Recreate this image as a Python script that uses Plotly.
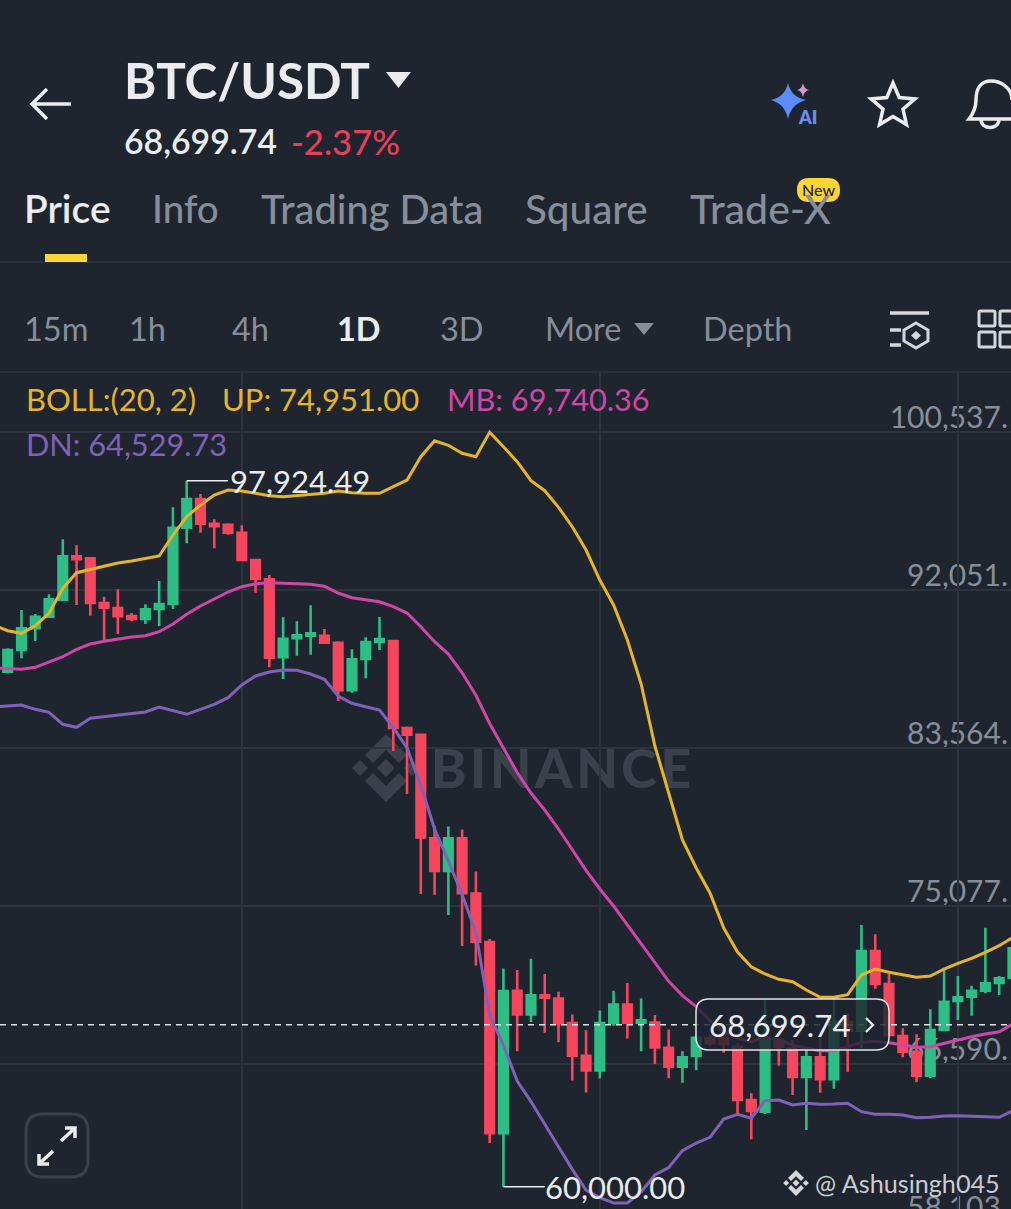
import math
import re
import plotly.graph_objects as go

W, H = 1011, 1209
BG = '#1f252f'
GRID = '#2d333e'
GREEN = '#2EBD85'
RED = '#F6465D'
GREY = '#868e9a'
WHITE = '#EAECEF'
FONT = 'Lato'

# daily candles, one value per candle
opens = [87663, 88828, 89994, 90617, 91530, 93861, 93753, 91353, 91084, 90654, 90493, 91030, 91299, 95397, 96938, 95612, 95558, 95128, 93662, 92620,
         88436, 89457, 89596, 89596, 89220, 86664, 88345, 89258, 89312, 84639, 84274, 78715, 76958, 78715, 75745, 73140, 62870, 70529, 69256, 70288,
         70105, 68794, 67038, 66248, 68794, 69783, 68816, 68816, 67457, 66447, 67022, 67973, 67973, 67521, 64659, 64030, 67881, 67436, 65894, 66952,
         65770, 68864, 68381, 72662, 70889, 68096, 67253, 65964, 68418, 69976, 70207, 70529, 70943, 71227]
highs = [88919, 90977, 90762, 91820, 94774, 94452, 93753, 91691, 92088, 90815, 91283, 92534, 96493, 97924.49, 97207, 95848, 95633, 95526, 93662, 92856,
         90585, 90370, 91229, 89956, 89295, 88866, 89510, 90601, 89365, 84714, 84274, 79381, 79343, 79182, 76937, 73306, 71722, 71641, 72248, 71426,
         70470, 69256, 68408, 69460, 70529, 70937, 70105, 69219, 68451, 67280, 68150, 68150, 68059, 67704, 65019, 70030, 67973, 67881, 67344, 68150,
         70083, 69278, 74058, 73558, 71426, 68510, 68187, 69530, 71765, 71319, 70798, 73913, 71319, 73252]
lows = [87577, 88382, 89312, 90617, 91530, 91245, 90670, 89274, 89688, 90370, 90225, 90117, 91030, 94559, 95128, 94291, 95021, 93625, 91906, 87899,
        87271, 88522, 88576, 89220, 86089, 86535, 87308, 88828, 83404, 81099, 75723, 75685, 74595, 72935, 71883, 62349, 60000, 67280, 68853, 68268,
        67763, 65701, 65056, 65824, 68649, 67967, 67280, 66590, 65824, 65583, 66259, 67575, 67199, 63944, 62548, 63907, 66501, 64927, 63047, 65051,
        65266, 66179, 67436, 70637, 68150, 66952, 65609, 65824, 68381, 68956, 69186, 70390, 70298, 71100]
closes = [88828, 89994, 90617, 91551, 93861, 93700, 91353, 91100, 90638, 90493, 91014, 91299, 95397, 96938, 95612, 95472, 95128, 93662, 92642, 88415,
          89435, 89618, 89725, 89220, 86664, 88329, 89258, 89419, 84639, 84274, 78757, 76958, 78715, 75766, 73156, 62870, 70513, 69256, 70288, 70148,
          68773, 67038, 66248, 68794, 69783, 68816, 68934, 67478, 66447, 66952, 67999, 67720, 67666, 64659, 64068, 67881, 67521, 65894, 66952, 65770,
          68864, 68381, 72662, 70889, 68150, 67253, 65964, 68418, 69938, 70175, 70529, 70927, 71195, 72806]

# bollinger bands start one candle earlier, off the left edge
boll_up = [90170, 89865, 89725, 90133, 90799, 92142, 92980, 93163, 93356, 93501, 93608, 93753, 93877, 95005, 95988, 96616, 97153, 97422, 97368, 97245, 97116,
           97062, 97116, 97169, 97245, 97368, 97277, 97245, 97245, 97599, 97959, 99210, 100070, 99823, 99393, 99210, 100521, 99747, 98942, 97921, 97384,
           96493, 95451, 94199, 92588, 91245, 89365, 87002, 83672, 81148, 78623, 77119, 75777, 73897, 72608, 71818, 71426, 71141, 71013, 70567, 70175,
           70175, 70314, 71372, 71695, 71517, 71372, 71249, 71319, 71695, 72001, 72269, 72592, 72946, 73397]
boll_mid = [87860, 87808, 87792, 87899, 88184, 88468, 88866, 89150, 89295, 89419, 89526, 89596, 89811, 90225, 90746, 91191, 91584, 91943, 92228, 92389, 92443,
            92427, 92411, 92357, 92250, 91890, 91637, 91514, 91422, 91154, 90815, 90080, 89274, 88613, 87604, 86395, 84880, 83564, 82249, 81148, 80235,
            79214, 78108, 76996, 75992, 75077, 74069, 73059, 72006, 71034, 70266, 69670, 68918, 68327, 67973, 67790, 68059, 67881, 67613, 67436, 67307,
            67307, 67521, 67758, 67812, 67737, 67613, 67489, 67521, 67704, 67881, 68059, 68204, 68327, 68741]
boll_dn = [85767, 85820, 85874, 85643, 85482, 84838, 84676, 85160, 85246, 85337, 85428, 85498, 85767, 85568, 85375, 85643, 85912, 86266, 86948, 87432, 87647,
           87754, 87738, 87539, 87254, 86358, 85965, 85783, 85606, 84666, 83564, 81545, 79214, 77501, 75685, 73666, 69224, 67613, 65679, 64573, 63359,
           62145, 60931, 59825, 59417, 59127, 59127, 59717, 60630, 61033, 61941, 62349, 62655, 63638, 63891, 63676, 64621, 64659, 64390, 64481, 64427,
           64444, 64481, 64030, 63891, 63891, 63853, 63708, 63729, 63799, 63815, 63783, 63746, 63729, 64084]

candle_x = list(range(len(opens)))
boll_x = list(range(-1, len(opens)))

grid_prices = [100537, 92051, 83564, 75077, 66590, 58103]
grid_labels = ['100,537.', '92,051.', '83,564.', '75,077.', '66,590.', '58,103.']
grid_candles = [17, 43, 69]
last_price = 68699.74
peak_price = 97924.49
bottom_price = 60000.00
PRICE_PER_PX = 53.71


def px(x, y):
    return x / W, 1 - y / H


def pp(d):
    # svg path written in screen pixels -> paper coords
    out, n = [], 0
    for tok in re.findall(r'[A-Za-z]|-?[\d.]+', d):
        if tok.isalpha():
            out.append(tok)
        else:
            v = float(tok)
            out.append(f'{v / W:.5f}' if n % 2 == 0 else f'{1 - v / H:.5f}')
            n += 1
    return ' '.join(out)


def rrect(x0, y0, x1, y1, r):
    return (f'M {x0 + r} {y0} L {x1 - r} {y0} Q {x1} {y0} {x1} {y0 + r} L {x1} {y1 - r} Q {x1} {y1} {x1 - r} {y1} '
            f'L {x0 + r} {y1} Q {x0} {y1} {x0} {y1 - r} L {x0} {y0 + r} Q {x0} {y0} {x0 + r} {y0} Z')


def binance_logo(cx, cy, s):
    parts = []
    polys = [[(0, -34), (21, -13), (13, -5), (0, -18), (-13, -5), (-21, -13)],
             [(0, 34), (21, 13), (13, 5), (0, 18), (-13, 5), (-21, 13)],
             [(0, -9), (9, 0), (0, 9), (-9, 0)],
             [(-26, -8), (-18, 0), (-26, 8), (-34, 0)],
             [(26, -8), (34, 0), (26, 8), (18, 0)]]
    for poly in polys:
        pts = [f'{cx + a * s} {cy + b * s}' for a, b in poly]
        parts.append('M ' + ' L '.join(pts) + ' Z')
    return ' '.join(parts)


fig = go.Figure()

fig.add_trace(go.Candlestick(
    x=candle_x, open=opens, high=highs, low=lows, close=closes,
    increasing=dict(line=dict(color=GREEN, width=2.6), fillcolor=GREEN),
    decreasing=dict(line=dict(color=RED, width=2.6), fillcolor=RED),
    whiskerwidth=0, showlegend=False, hoverinfo='skip',
))
fig.add_trace(go.Scatter(x=boll_x, y=boll_up, mode='lines', line=dict(color='#E5B429', width=3), showlegend=False, hoverinfo='skip'))
fig.add_trace(go.Scatter(x=boll_x, y=boll_mid, mode='lines', line=dict(color='#CE47A6', width=3), showlegend=False, hoverinfo='skip'))
fig.add_trace(go.Scatter(x=boll_x, y=boll_dn, mode='lines', line=dict(color='#7F62B8', width=3), showlegend=False, hoverinfo='skip'))

fig.update_layout(
    width=W, height=H, margin=dict(l=0, r=0, t=0, b=0),
    paper_bgcolor=BG, plot_bgcolor=BG, font=dict(family=FONT, color=WHITE),
    boxgap=0.38, boxgroupgap=0,
    xaxis=dict(range=[-0.559, 72.86], rangeslider=dict(visible=False), tickvals=grid_candles, showticklabels=False,
               showgrid=True, gridcolor=GRID, gridwidth=1.5, zeroline=False, ticks='', showline=False),
    yaxis=dict(domain=[0, 0.6923], range=[58804, 103760], tickvals=grid_prices, showticklabels=False,
               showgrid=True, gridcolor=GRID, gridwidth=1.5, zeroline=False, ticks='', showline=False),
)


def txt(label, x, y, size, color=WHITE, weight=400, anchor='left', family=FONT):
    xp, yp = px(x, y)
    fig.add_annotation(x=xp, y=yp, xref='paper', yref='paper', text=label, showarrow=False, xanchor=anchor, yanchor='middle',
                       font=dict(size=size, color=color, weight=weight, family=family))


def shape_path(d, color=None, fill=None, width=3, layer='above'):
    fig.add_shape(type='path', path=pp(d), xref='paper', yref='paper', layer=layer,
                  line=dict(color=color or 'rgba(0,0,0,0)', width=width if color else 0), fillcolor=fill or 'rgba(0,0,0,0)')


# watermark sits under the candles, so it's a shape label
shape_path(binance_logo(386, 768, 1.0), fill='#3a414c', layer='below')
fig.add_shape(type='rect', xref='paper', yref='paper', x0=420 / W, x1=702 / W, y0=1 - 797 / H, y1=1 - 735 / H, layer='below',
              line=dict(width=0), fillcolor='rgba(0,0,0,0)',
              label=dict(text='\u200a'.join('BINANCE'), textposition='middle center', font=dict(size=54, color='#3a414c', family=FONT, weight=900)))

# axis labels, also under the candles
for price, lab in zip(grid_prices, grid_labels):
    fig.add_shape(type='rect', xref='paper', yref='y', x0=840 / W, x1=1.0, y0=price + 4 * PRICE_PER_PX, y1=price + 28 * PRICE_PER_PX,
                  layer='below', line=dict(width=0), fillcolor='rgba(0,0,0,0)',
                  label=dict(text=lab, textposition='middle right', padding=0, font=dict(size=30, color=GREY, family=FONT)))

# top lines
shape_path('M 0 262 L 1011 262', color=GRID, width=1.5)
shape_path('M 0 372 L 1011 372', color=GRID, width=1.5)
shape_path('M 45 258 L 87 258', color='#FCD535', width=8)

# header
shape_path('M 31 104 L 71 104 M 47 89 L 32 104 L 47 119', color=WHITE, width=3.5)
txt('BTC/USDT', 122, 80, 49.4, WHITE, 700)
shape_path('M 386 72 L 411 72 L 398.5 88 Z', fill=WHITE)
txt('68,699.74', 122, 141, 33.8, WHITE, 600)
txt('-2.37%', 289, 141, 34.6, '#E5405A', 500)

# AI, star, bell
shape_path('M 788 83 Q 791 97 806 100 Q 791 104 788 119 Q 785 104 771 100 Q 785 97 788 83 Z', fill='#5A8DFB')
shape_path('M 803 83 Q 804 89 809 90 Q 804 91 803 97 Q 802 91 797 90 Q 802 89 803 83 Z', fill='#D69AC6')
txt('AI', 796, 117, 18, '#6C8DEE', 800)
star = []
for k in range(10):
    r = 23 if k % 2 == 0 else 10.5
    a = -math.pi / 2 + k * math.pi / 5
    star.append(f'{893 + r * math.cos(a):.1f} {106 + r * math.sin(a):.1f}')
shape_path('M ' + ' L '.join(star) + ' Z', color=WHITE, width=3.5)
shape_path('M 1020 119 L 969 119 C 973 114 976 109 976 100 C 976 88 981 81 991 81 C 1001 81 1012 88 1012 100', color=WHITE, width=3.5)
shape_path('M 981 120 C 982 130 998 130 999 120', color=WHITE, width=3.5)

# tabs
txt('Price', 22, 208, 39, WHITE, 600)
for lab, x, size in [('Info', 150, 38.5), ('Trading Data', 259, 39.8), ('Square', 523, 40.4), ('Trade-X', 688, 41)]:
    txt(lab, x, 208, size, GREY, 500)
shape_path(rrect(797, 178, 840, 202, 12), fill='#FCD535')
txt('New', 818.5, 189.5, 16, '#1E2329', 500, anchor='center')

# intervals
for lab, x in [('15m', 22), ('1h', 127), ('4h', 230), ('3D', 438), ('More', 543), ('Depth', 701)]:
    txt(lab, x, 328, 32.5, GREY)
txt('1D', 335, 328, 32.5, WHITE, 700)
shape_path('M 634 323 L 654 323 L 644 335 Z', fill=GREY)
shape_path('M 890 313 L 929 313 M 890 330 L 901 330 M 890 345 L 901 345', color='#d5d7da', width=3.5)
shape_path('M 916 323 L 928 330 L 928 341 L 916 348 L 904 341 L 904 330 Z', color='#d5d7da', width=3)
shape_path('M 916 331 L 921 335.5 L 916 340 L 911 335.5 Z', fill='#d5d7da')
for x0, y0 in [(979, 311), (1000, 311), (979, 332), (1000, 332)]:
    shape_path(rrect(x0, y0, x0 + 16, y0 + 15, 1.5), color='#d5d7da', width=3)

# legend
txt('BOLL:(20, 2)', 24, 399, 31, '#E5B429')
txt('UP: 74,951.00', 220, 399, 31, '#E5B429')
txt('MB: 69,740.36', 445, 399, 30.7, '#CE47A6')
txt('DN: 64,529.73', 24, 444, 30.7, '#7F62B8')

# high / low leaders
fig.add_shape(type='line', xref='x', yref='y', x0=13, x1=16, y0=peak_price, y1=peak_price, line=dict(color=WHITE, width=1.5))
fig.add_shape(type='line', xref='x', yref='y', x0=36, x1=39, y0=bottom_price, y1=bottom_price, line=dict(color=WHITE, width=1.5))
fig.add_annotation(x=16, y=peak_price, xref='x', yref='y', text=f'{peak_price:,.2f}', showarrow=False, xanchor='left', yanchor='middle',
                   font=dict(size=31, color=WHITE, family=FONT))
fig.add_annotation(x=38.9, y=bottom_price, xref='x', yref='y', text=f'{bottom_price:,.2f}', showarrow=False, xanchor='left', yanchor='middle',
                   font=dict(size=31, color=WHITE, family=FONT))

# last price line + box
fig.add_shape(type='line', xref='paper', yref='y', x0=0, x1=1, y0=last_price, y1=last_price, line=dict(color='#dfe2e6', width=1.5, dash='6px,5px'))
shape_path(rrect(696, 999, 889, 1050, 13), color='#e4e6e9', fill='rgba(31,37,47,0.82)', width=1.5)
txt(f'{last_price:,.2f}', 707, 1025, 31.3, WHITE)
shape_path('M 866 1018 L 873 1025 L 866 1032', color=WHITE, width=2.2)

# expand button
shape_path(rrect(26, 1114, 88, 1177, 17), color='#3a414c', width=3)
shape_path('M 61 1141 L 75 1128 M 65 1128 L 75 1128 L 75 1138 M 53 1151 L 39 1164 M 39 1154 L 39 1164 L 49 1164', color=WHITE, width=3.5)

# credit
shape_path(binance_logo(796, 1183, 0.38), fill='#d5d7da')
txt('@ Ashusingh045', 813, 1183, 25.2, '#c9ccd1')

fig.write_html("out.html", config={'displayModeBar': False}, post_script="document.body.style.margin='0';document.body.style.overflow='hidden';")
